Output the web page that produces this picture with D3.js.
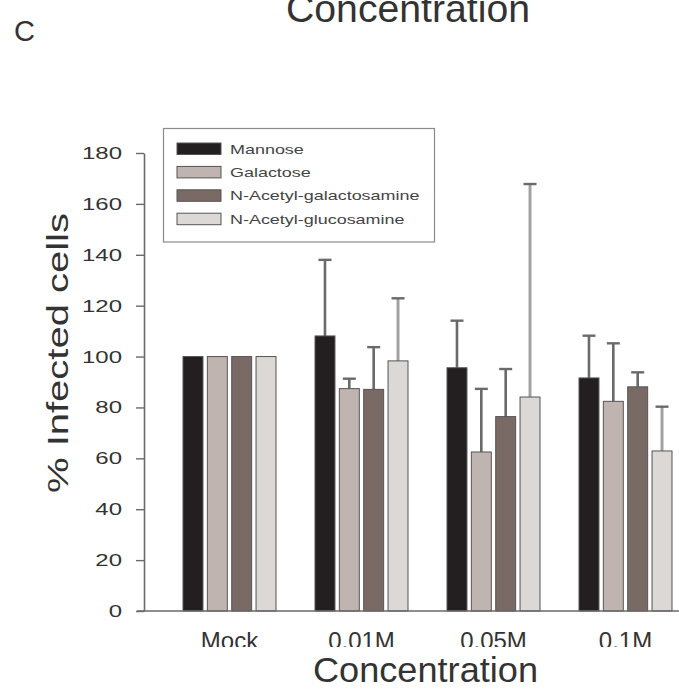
<!DOCTYPE html>
<html>
<head>
<meta charset="utf-8">
<script src="https://cdn.jsdelivr.net/npm/d3@7"></script>
<style>
  html, body { margin: 0; padding: 0; background: #fff; }
  svg { display: block; font-family: "Liberation Sans", Arial, Helvetica, sans-serif; }
</style>
</head>
<body>
<svg id="chart" width="679" height="698"></svg>
<script>
// ---- data ----
const categories = ["Mock", "0.01M", "0.05M", "0.1M"];
const seriesNames = ["Mannose", "Galactose", "N-Acetyl-galactosamine", "N-Acetyl-glucosamine"];
const seriesColors = ["#231f20", "#c0b4b1", "#7a6a66", "#dcd8d5"];
// mean values, per series, per category
const mannose      = [100, 108.1, 95.6, 91.6];
const galactose    = [100, 87.4, 62.5, 82.4];
const naGal        = [100, 87.1, 76.4, 88.1];
const naGlc        = [100, 98.3, 84.1, 62.9];
// upper ends of the error bars (null = no bar)
const mannoseErr   = [null, 138.0, 114.1, 108.2];
const galactoseErr = [null, 91.3, 87.3, 105.2];
const naGalErr     = [null, 103.7, 95.1, 93.8];
const naGlcErr     = [null, 122.9, 167.8, 80.3];
const yTicks = [0, 20, 40, 60, 80, 100, 120, 140, 160, 180];

const values = [mannose, galactose, naGal, naGlc];
const errs = [mannoseErr, galactoseErr, naGalErr, naGlcErr];

const svg = d3.select("#chart");
const textColor = "#333";
const axisColor = "#6a6a6a";

const x = d3.scaleBand().domain(categories).range([163.5, 691.5]).padding(0);
const xs = d3.scaleBand().domain(seriesNames).range([19.5, 112.5]).paddingInner(0.18).paddingOuter(0);
const y = d3.scaleLinear().domain([0, 180]).range([611, 153]);

function stretch(sel, factor) {
  sel.each(function() {
    const w = this.getComputedTextLength();
    d3.select(this).attr("textLength", w * factor).attr("lengthAdjust", "spacingAndGlyphs");
  });
}

// top clipped title (from panel above)
svg.append("text").attr("x", 408).attr("y", 21.5).attr("text-anchor", "middle")
  .attr("font-size", 39).attr("fill", textColor).text("Concentration")
  .attr("textLength", 244).attr("lengthAdjust", "spacingAndGlyphs");

// panel letter
svg.append("text").attr("x", 14).attr("y", 41).attr("font-size", 29)
  .attr("fill", textColor).text("C");

// y axis
const yAxis = svg.append("g").attr("transform", "translate(144,0)")
  .call(d3.axisLeft(y).tickValues(yTicks).tickSize(8).tickSizeOuter(0).tickPadding(14));
yAxis.select(".domain").attr("stroke", axisColor).attr("stroke-width", 1.6);
yAxis.selectAll(".tick line").attr("stroke", axisColor).attr("stroke-width", 1.4);
yAxis.selectAll(".tick text").attr("font-size", 17).attr("fill", textColor)
  .attr("font-family", "Liberation Sans, Arial, sans-serif").call(stretch, 1.41);

// y label
svg.append("text").attr("transform", "translate(68,353) rotate(-90)")
  .attr("text-anchor", "middle").attr("font-size", 29).attr("fill", textColor)
  .text("% Infected cells").attr("textLength", 280).attr("lengthAdjust", "spacingAndGlyphs");

// bars
const groups = svg.append("g").selectAll("g").data(categories).join("g")
  .attr("transform", d => `translate(${x(d)},0)`);

groups.each(function(cat, ci) {
  const g = d3.select(this);
  seriesNames.forEach((s, si) => {
    const v = values[si][ci];
    const e = errs[si][ci];
    const cx = xs(s) + xs.bandwidth() / 2;
    if (e !== null) {
      g.append("line").attr("x1", cx).attr("x2", cx).attr("y1", y(v)).attr("y2", y(e))
        .attr("stroke", axisColor).attr("stroke-width", 2.6);
      if (d3.hsl(seriesColors[si]).l > 0.8) {
        g.append("line").attr("x1", cx).attr("x2", cx).attr("y1", y(v)).attr("y2", y(e) + 1)
          .attr("stroke", seriesColors[si]).attr("stroke-width", 1);
      }
      g.append("line").attr("x1", cx - 6.5).attr("x2", cx + 6.5).attr("y1", y(e)).attr("y2", y(e))
        .attr("stroke", axisColor).attr("stroke-width", 2.4);
    }
    g.append("rect").attr("x", xs(s)).attr("width", xs.bandwidth())
      .attr("y", y(v)).attr("height", y(0) - y(v))
      .attr("fill", seriesColors[si]).attr("stroke", "#555").attr("stroke-width", 1);
  });
});

// x axis baseline
svg.append("line").attr("x1", 137).attr("x2", 679).attr("y1", y(0)).attr("y2", y(0))
  .attr("stroke", axisColor).attr("stroke-width", 1.6);

// x tick labels (clipped at the bottom like the reference)
svg.append("clipPath").attr("id", "xclip").append("rect")
  .attr("x", 0).attr("y", 612).attr("width", 679).attr("height", 35);
const xAxis = svg.append("g").attr("transform", `translate(0,${y(0)})`)
  .attr("clip-path", "url(#xclip)")
  .call(d3.axisBottom(x).tickSize(0).tickPadding(21));
xAxis.attr("transform", `translate(0,${y(0)})`);
xAxis.select(".domain").remove();
xAxis.selectAll(".tick text").attr("font-size", 24).attr("fill", textColor)
  .attr("font-family", "Liberation Sans, Arial, sans-serif");
// clip path is in user space of the axis group: shift it
d3.select("#xclip rect").attr("y", 0).attr("height", 36);

// x title
svg.append("text").attr("x", 425.5).attr("y", 681.5).attr("text-anchor", "middle")
  .attr("font-size", 35).attr("fill", textColor).text("Concentration")
  .attr("textLength", 225).attr("lengthAdjust", "spacingAndGlyphs");

// legend
const legend = svg.append("g");
legend.append("rect").attr("x", 163.5).attr("y", 128.5).attr("width", 271).attr("height", 113.5)
  .attr("fill", "#fff").attr("stroke", "#8a8a8a").attr("stroke-width", 1.2);
const rows = legend.selectAll("g.row").data(seriesNames).join("g").attr("class", "row")
  .attr("transform", (d, i) => `translate(177,${143 + i * 23.4})`);
rows.append("rect").attr("width", 44).attr("height", 11.5)
  .attr("fill", (d, i) => seriesColors[i]).attr("stroke", "#555").attr("stroke-width", 1);
rows.append("text").attr("x", 53).attr("y", 6).attr("dy", "0.35em")
  .attr("font-size", 13).attr("fill", "#444").text(d => d).call(stretch, 1.38);
</script>
</body>
</html>
